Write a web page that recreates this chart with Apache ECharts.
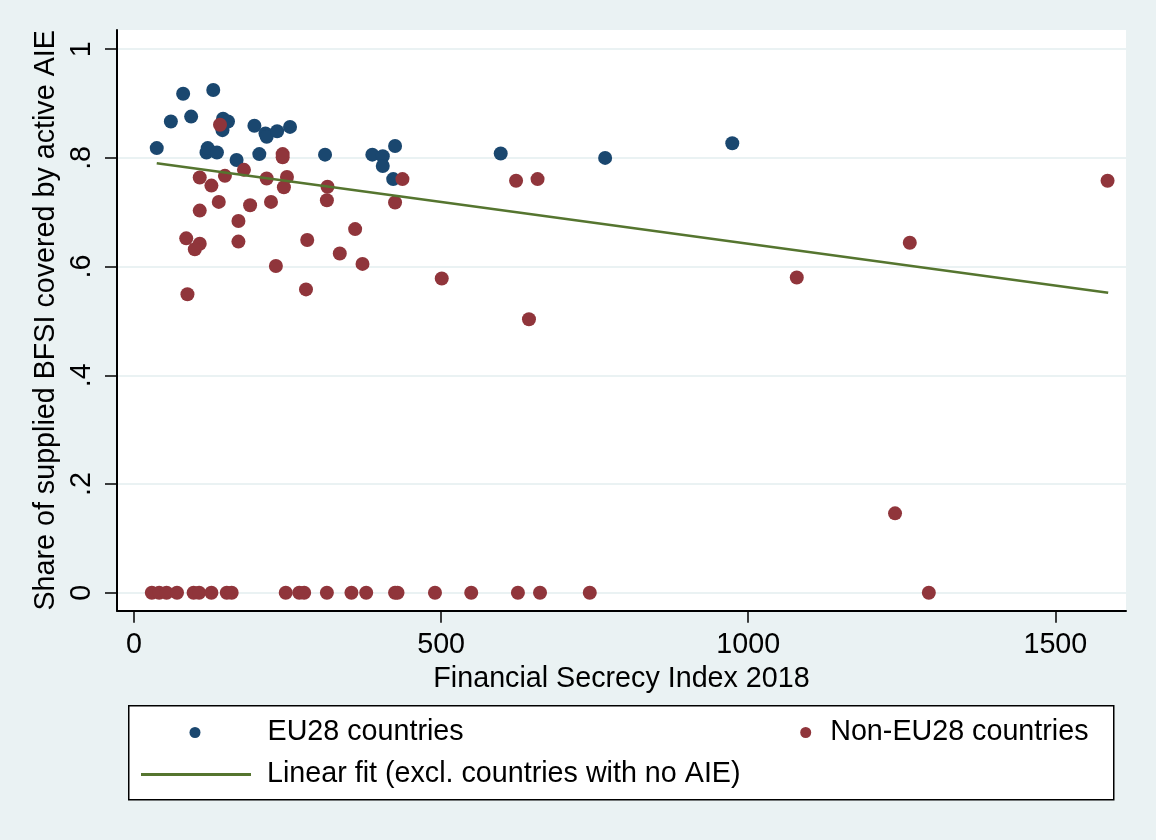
<!DOCTYPE html>
<html><head><meta charset="utf-8">
<script src="https://cdn.jsdelivr.net/npm/echarts@6/dist/echarts.min.js"></script>
<style>html,body{margin:0;padding:0;background:#eaf2f3}#c{width:1156px;height:840px}</style>
</head><body><div id="c"></div>
<script>
// ---- data ----
const euX = [37, 60, 80, 93, 118, 120, 129, 135, 144, 145, 153, 167, 196, 204, 214, 216, 233, 254, 311, 388, 405, 405, 422, 425, 597, 767, 974];
const euY = [0.818, 0.867, 0.918, 0.876, 0.810, 0.818, 0.925, 0.810, 0.851, 0.872, 0.867, 0.796, 0.859, 0.807, 0.845, 0.839, 0.849, 0.857, 0.806, 0.806, 0.803, 0.785, 0.761, 0.822, 0.808, 0.800, 0.827];

const nonEuX = [140, 242, 242, 179, 107, 148, 126, 216, 249, 244, 315, 314, 437, 425, 138, 107, 189, 223, 170, 85, 107, 99, 170, 282, 360, 335, 372, 231, 87, 280, 501, 622, 657, 643, 1079, 1263, 1585, 1239];
const nonEuY = [0.861, 0.807, 0.801, 0.778, 0.764, 0.767, 0.749, 0.762, 0.765, 0.746, 0.747, 0.722, 0.761, 0.718, 0.719, 0.703, 0.713, 0.719, 0.684, 0.652, 0.642, 0.632, 0.646, 0.649, 0.669, 0.624, 0.605, 0.601, 0.549, 0.558, 0.578, 0.758, 0.761, 0.503, 0.580, 0.644, 0.758, 0.146];
// non-EU countries with no active AIE (share = 0)
const zeroX = [29, 41, 53, 70, 97, 106, 126, 151, 159, 247, 269, 277, 314, 354, 378, 425, 429, 490, 549, 625, 661, 742, 1294];
const zeroY = zeroX.map(() => 0);

// linear fit endpoints
const fitX = [37, 1586];
const fitY = [0.790, 0.552];

const xTicks = [0, 500, 1000, 1500];
const xTickLabels = ['0', '500', '1000', '1500'];
const yTicks = [0, 0.2, 0.4, 0.6, 0.8, 1];
const yTickLabels = ['0', '.2', '.4', '.6', '.8', '1'];

const seriesNames = ['EU28 countries', 'Non-EU28 countries', 'Linear fit (excl. countries with no AIE)'];
const xTitle = 'Financial Secrecy Index 2018';
const yTitle = 'Share of supplied BFSI covered by active AIE';

// ---- chart ----
const FONT = '"Liberation Sans", Arial, sans-serif';
const zip = (a, b) => a.map((v, i) => [v, b[i]]);
const pick = (ticks, labels) => v => { const i = ticks.findIndex(t => Math.abs(t - v) < 1e-6); return i >= 0 ? labels[i] : ''; };

const chart = echarts.init(document.getElementById('c'), null, {renderer: 'canvas'});
const txt = {fontFamily: FONT, fontSize: 28.7, color: '#000'};

chart.setOption({
  backgroundColor: '#eaf2f3',
  animation: false,
  textStyle: {fontFamily: FONT},
  grid: {left: 117, right: 30, top: 30, bottom: 229.3, show: true, backgroundColor: '#ffffff', borderWidth: 0, containLabel: false},
  xAxis: {
    type: 'value', min: -27.7, max: 1615,
    name: xTitle, nameLocation: 'middle', nameGap: 46, nameTextStyle: txt,
    axisLine: {show: true, onZero: false, lineStyle: {color: '#000', width: 2}},
    axisTick: {show: true, customValues: xTicks, length: 12, lineStyle: {color: '#000', width: 1.5}},
    axisLabel: {show: true, customValues: xTicks, margin: 20, ...txt, formatter: pick(xTicks, xTickLabels)},
    splitLine: {show: false}
  },
  yAxis: {
    type: 'value', min: -0.0331, max: 1.0353,
    name: yTitle, nameLocation: 'middle', nameGap: 52, nameTextStyle: txt,
    axisLine: {show: true, onZero: false, lineStyle: {color: '#000', width: 2}},
    axisTick: {show: true, customValues: yTicks, length: 12, lineStyle: {color: '#000', width: 1.5}},
    axisLabel: {show: true, customValues: yTicks, rotate: 90, margin: 20, ...txt, formatter: pick(yTicks, yTickLabels)},
    splitLine: {show: true, lineStyle: {color: '#eaf2f3', width: 2}}
  },
  graphic: [{
    type: 'rect', left: 128, top: 705, z: 0,
    shape: {width: 985, height: 94},
    style: {fill: '#ffffff', stroke: '#000', lineWidth: 1.5}
  }],
  legend: [
    {data: [seriesNames[0]], left: 189.5, top: 718, padding: 0, itemWidth: 11, itemHeight: 11, selectedMode: false,
      textStyle: {...txt, lineHeight: 28, padding: [0, 0, 0, 62]}},
    {data: [seriesNames[1]], left: 800.2, top: 718, padding: 0, itemWidth: 11, itemHeight: 11, selectedMode: false,
      textStyle: {...txt, lineHeight: 28, padding: [0, 0, 0, 14]}},
    {data: [{name: seriesNames[2], icon: 'rect'}], left: 141, top: 760, padding: 0, itemWidth: 110, itemHeight: 3, selectedMode: false,
      itemStyle: {color: '#55752f'},
      textStyle: {...txt, lineHeight: 28, padding: [0, 0, 0, 11]}}
  ],
  series: [
    {name: seriesNames[0], type: 'scatter', symbol: 'circle', symbolSize: 14, clip: false,
      itemStyle: {color: '#1a476f', opacity: 1}, data: zip(euX, euY)},
    {name: seriesNames[1], type: 'scatter', symbol: 'circle', symbolSize: 14, clip: false,
      itemStyle: {color: '#90353b', opacity: 1}, data: zip(nonEuX, nonEuY).concat(zip(zeroX, zeroY))},
    {name: seriesNames[2], type: 'line', symbol: 'none', showSymbol: false, clip: false,
      lineStyle: {color: '#55752f', width: 2.5}, itemStyle: {color: '#55752f'}, data: zip(fitX, fitY)}
  ]
});
</script>
</body></html>
